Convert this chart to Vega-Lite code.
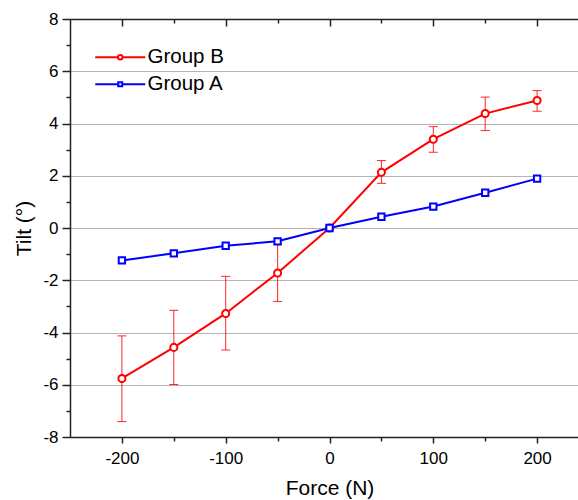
{
  "$schema": "https://vega.github.io/schema/vega-lite/v6.json",
  "width": 519,
  "height": 418,
  "autosize": {"type": "none"},
  "padding": {"left": 70, "top": 19, "right": 0, "bottom": 63},
  "background": "white",
  "config": {
    "view": {"stroke": null},
    "font": "Liberation Sans",
    "axis": {
      "domainColor": "#222222",
      "domainWidth": 1.5,
      "tickColor": "#222222",
      "tickWidth": 1.5,
      "labelColor": "#000000",
      "titleColor": "#000000",
      "labelFont": "Liberation Sans",
      "titleFont": "Liberation Sans",
      "labelFontSize": 17,
      "titleFontSize": 21,
      "titleFontWeight": "normal",
      "gridColor": "#b4b4b4",
      "gridWidth": 1
    }
  },
  "data": {
    "values": [
      {"series": "Group B", "force": -200, "tilt": -5.76, "lo": -7.41, "hi": -4.13},
      {"series": "Group B", "force": -150, "tilt": -4.57, "lo": -5.99, "hi": -3.15},
      {"series": "Group B", "force": -100, "tilt": -3.27, "lo": -4.67, "hi": -1.85},
      {"series": "Group B", "force": -50, "tilt": -1.72, "lo": -2.81, "hi": -0.63},
      {"series": "Group B", "force": 0, "tilt": 0, "lo": null, "hi": null},
      {"series": "Group B", "force": 50, "tilt": 2.13, "lo": 1.71, "hi": 2.58},
      {"series": "Group B", "force": 100, "tilt": 3.40, "lo": 2.90, "hi": 3.88},
      {"series": "Group B", "force": 150, "tilt": 4.38, "lo": 3.73, "hi": 5.01},
      {"series": "Group B", "force": 200, "tilt": 4.88, "lo": 4.47, "hi": 5.26},
      {"series": "Group A", "force": -200, "tilt": -1.24, "lo": null, "hi": null},
      {"series": "Group A", "force": -150, "tilt": -0.97, "lo": null, "hi": null},
      {"series": "Group A", "force": -100, "tilt": -0.68, "lo": null, "hi": null},
      {"series": "Group A", "force": -50, "tilt": -0.51, "lo": null, "hi": null},
      {"series": "Group A", "force": 0, "tilt": 0, "lo": null, "hi": null},
      {"series": "Group A", "force": 50, "tilt": 0.43, "lo": null, "hi": null},
      {"series": "Group A", "force": 100, "tilt": 0.82, "lo": null, "hi": null},
      {"series": "Group A", "force": 150, "tilt": 1.35, "lo": null, "hi": null},
      {"series": "Group A", "force": 200, "tilt": 1.89, "lo": null, "hi": null}
    ]
  },
  "layer": [
    {
      "transform": [{"filter": "datum.lo != null"}],
      "mark": {"type": "rule", "color": "#ff0000", "strokeWidth": 1, "opacity": 0.85},
      "encoding": {
        "x": {
          "field": "force", "type": "quantitative",
          "scale": {"domain": [-250, 250], "nice": false, "zero": false},
          "axis": {
            "orient": "bottom",
            "values": [-200, -100, 0, 100, 200],
            "labelExpr": "'' + datum.value",
            "tickSize": 6,
            "labelPadding": 7,
            "grid": false,
            "title": "Force (N)",
            "titlePadding": 11
          }
        },
        "y": {
          "field": "lo", "type": "quantitative",
          "scale": {"domain": [-8, 8], "nice": false, "zero": false},
          "axis": {
            "orient": "left",
            "values": [-8, -6, -4, -2, 0, 2, 4, 6, 8],
            "labelExpr": "'' + datum.value",
            "tickSize": 8,
            "labelPadding": 4,
            "grid": true,
            "gridOpacity": {"condition": {"test": "abs(datum.value) < 8", "value": 1}, "value": 0},
            "title": "Tilt (°)",
            "titlePadding": 8
          }
        },
        "y2": {"field": "hi"}
      }
    },
    {
      "transform": [{"filter": "datum.lo != null"}],
      "mark": {"type": "tick", "orient": "horizontal", "color": "#ff0000", "size": 9, "thickness": 1, "opacity": 0.85},
      "encoding": {
        "x": {
          "field": "force", "type": "quantitative",
          "axis": {"orient": "bottom", "values": [-150, -50, 50, 150], "labels": false, "domain": false, "grid": false, "tickSize": 4, "title": null}
        },
        "y": {
          "field": "lo", "type": "quantitative",
          "axis": {"orient": "left", "values": [-7, -5, -3, -1, 1, 3, 5, 7], "labels": false, "domain": false, "grid": false, "tickSize": 4, "title": null}
        }
      }
    },
    {
      "transform": [{"filter": "datum.lo != null"}],
      "mark": {"type": "tick", "orient": "horizontal", "color": "#ff0000", "size": 9, "thickness": 1, "opacity": 0.85},
      "encoding": {
        "x": {
          "field": "force", "type": "quantitative",
          "axis": {"orient": "top", "values": [-200, -100, 0, 100, 200], "labels": false, "domain": false, "grid": false, "tickSize": 7, "offset": -7, "title": null}
        },
        "y": {"field": "hi", "type": "quantitative", "axis": null}
      }
    },
    {
      "mark": {"type": "line", "strokeWidth": 2},
      "encoding": {
        "x": {
          "field": "force", "type": "quantitative",
          "axis": {"orient": "top", "labels": false, "ticks": false, "domain": true, "grid": false, "title": null}
        },
        "y": {"field": "tilt", "type": "quantitative", "axis": null},
        "color": {
          "field": "series", "type": "nominal",
          "scale": {"domain": ["Group B", "Group A"], "range": ["#ff0000", "#0000ff"]},
          "legend": {
            "title": null,
            "orient": "none",
            "legendX": 40,
            "legendY": 28,
            "padding": 0,
            "symbolSize": 100,
            "symbolStrokeWidth": 2,
            "symbolFillColor": "white",
            "labelFontSize": 20.5,
            "labelFont": "Liberation Sans",
            "labelColor": "#000000",
            "labelOffset": 17,
            "rowPadding": 6,
            "encode": {
              "symbols": {
                "update": {
                  "shape": {"signal": "datum.value === 'Group B' ? 'M-5,0H-0.45M0.45,0H5M0.45,0A0.45,0.45,0,1,1,-0.45,0A0.45,0.45,0,1,1,0.45,0Z' : 'M-5,0H-0.4M0.4,0H5M-0.4,-0.4H0.4V0.4H-0.4Z'"},
                  "fill": {"value": "white"},
                  "strokeWidth": {"value": 2}
                }
              }
            }
          }
        }
      }
    },
    {
      "transform": [{"filter": "datum.series == 'Group B'"}],
      "mark": {"type": "point", "shape": "circle", "size": 50, "strokeWidth": 2, "stroke": "#ff0000", "fill": "white", "filled": true, "opacity": 1},
      "encoding": {
        "x": {
          "field": "force", "type": "quantitative",
          "axis": {"orient": "top", "values": [-150, -50, 50, 150], "labels": false, "domain": false, "grid": false, "tickSize": 4, "offset": -4, "title": null}
        },
        "y": {"field": "tilt", "type": "quantitative", "axis": null}
      }
    },
    {
      "transform": [{"filter": "datum.series == 'Group A'"}],
      "mark": {"type": "point", "shape": "square", "size": 40, "strokeWidth": 2, "stroke": "#0000ff", "fill": "white", "filled": true, "opacity": 1},
      "encoding": {
        "x": {"field": "force", "type": "quantitative", "axis": null},
        "y": {"field": "tilt", "type": "quantitative", "axis": null}
      }
    }
  ],
  "resolve": {"axis": {"x": "independent", "y": "independent"}}
}
